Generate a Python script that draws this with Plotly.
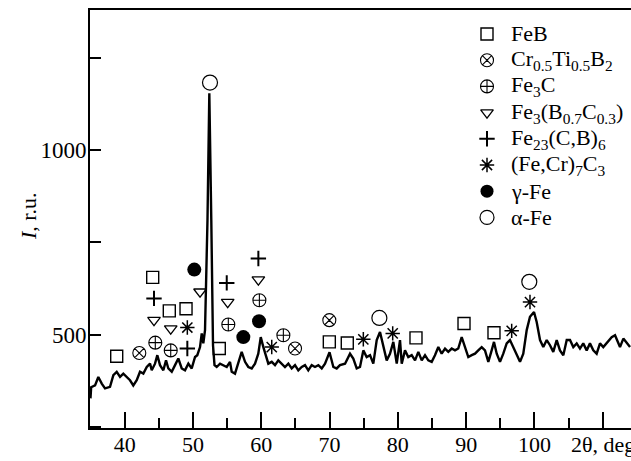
import plotly.graph_objects as go

# Diffraction pattern (2θ in degrees, intensity in r.u.)
two_theta = [35.0, 35.1, 35.67, 36.15, 36.65, 37.13, 37.86, 38.35, 38.84, 39.33, 39.81, 40.31,
             40.79, 41.27, 41.77, 42.25, 42.74, 43.24, 43.72, 43.97, 44.45, 44.79, 45.18, 45.67,
             46.06, 46.40, 46.90, 47.38, 47.86, 48.36, 48.84, 49.33, 49.82, 50.31, 50.64, 51.04,
             51.29, 51.52, 51.77, 52.13, 52.40, 52.69, 52.94, 53.16, 53.48, 53.97, 54.45, 54.95,
             55.43, 55.68, 56.16, 56.65, 57.14, 57.63, 58.11, 58.61, 59.09, 59.57, 59.93, 60.31,
             60.70, 61.04, 61.54, 62.02, 62.50, 63.00, 63.48, 63.97, 64.46, 64.95, 65.43, 65.93,
             66.41, 66.89, 67.39, 67.87, 68.36, 68.86, 69.34, 70.0, 70.56, 71.05, 71.53, 72.27,
             73.00, 73.48, 73.98, 74.46, 74.95, 75.44, 75.93, 76.41, 76.91, 77.39, 77.88, 78.37,
             78.85, 79.34, 79.84, 80.07, 80.32, 80.57, 81.05, 81.53, 82.03, 82.52, 83.00, 83.50,
             83.98, 84.46, 84.96, 85.44, 85.93, 86.42, 86.91, 87.39, 87.89, 88.37, 88.85, 89.35,
             89.84, 90.32, 90.82, 91.30, 91.78, 92.28, 92.76, 93.25, 93.74, 94.08, 94.48, 94.96,
             95.44, 95.94, 96.42, 96.91, 97.40, 97.89, 98.37, 98.87, 99.35, 99.94, 100.33, 100.82,
             101.30, 101.80, 102.28, 102.76, 103.26, 103.74, 104.23, 104.73, 105.21, 105.69, 106.19,
             106.67, 107.15, 107.65, 108.13, 108.62, 109.11, 109.60, 110.08, 110.58, 111.31, 111.80,
             112.28, 112.53, 113.02, 113.52, 114.0]
intensity = [327, 357, 362, 385, 367, 354, 358, 390, 399, 385, 394, 385,
             376, 362, 376, 399, 394, 412, 421, 403, 421, 444, 417, 403,
             430, 408, 399, 417, 435, 408, 403, 421, 408, 439, 444, 466,
             503, 476, 512, 810, 1154, 810, 471, 417, 412, 421, 417, 412,
             426, 399, 394, 421, 453, 426, 412, 408, 421, 448, 493, 466,
             444, 421, 426, 417, 430, 421, 412, 421, 408, 417, 403, 412,
             417, 403, 417, 412, 417, 408, 421, 452, 412, 408, 417, 421,
             448, 435, 408, 412, 457, 439, 444, 421, 485, 507, 466, 430,
             448, 480, 421, 448, 485, 421, 457, 439, 444, 430, 453, 430,
             444, 430, 426, 444, 466, 448, 462, 453, 462, 457, 462, 493,
             466, 439, 444, 448, 457, 466, 457, 426, 457, 480, 448, 426,
             448, 476, 485, 466, 444, 426, 448, 512, 548, 561, 534, 485,
             466, 485, 471, 453, 485, 457, 444, 485, 485, 466, 476,
             462, 476, 457, 476, 457, 448, 476, 466, 476, 493, 498,
             476, 466, 489, 476, 466]

# Phase labels (marker positions: 2θ, I)
phase_names = ["FeB", "Cr<sub>0.5</sub>Ti<sub>0.5</sub>B<sub>2</sub>", "Fe<sub>3</sub>C",
               "Fe<sub>3</sub>(B<sub>0.7</sub>C<sub>0.3</sub>)", "Fe<sub>23</sub>(C,B)<sub>6</sub>",
               "(Fe,Cr)<sub>7</sub>C<sub>3</sub>", "γ-Fe", "α-Fe"]
feb_x = [38.84, 44.11, 46.54, 48.99, 53.86, 69.97, 72.60, 82.66, 89.69, 94.08]
feb_y = [441, 655, 564, 570, 462, 480, 477, 491, 530, 505]
crti_x = [42.15, 64.95, 69.97]
crti_y = [450, 462, 539]
fe3c_x = [44.49, 46.75, 55.18, 59.73, 63.24]
fe3c_y = [478, 457, 527, 593, 498]
fe3bc_x = [44.30, 46.75, 51.04, 55.09, 59.58]
fe3bc_y = [539, 516, 616, 588, 649]
fe23_x = [44.30, 49.18, 54.95, 59.58]
fe23_y = [598, 462, 640, 706]
fecr_x = [49.18, 61.54, 74.95, 79.25, 96.67, 99.35]
fecr_y = [519, 466, 487, 503, 510, 588]
gfe_x = [50.20, 57.38, 59.68]
gfe_y = [676, 493, 536]
afe_x = [52.50, 77.30, 99.25]
afe_y = [1183, 545, 643]

x_tickvals = [40, 50, 60, 70, 80, 90, 100, 110]
x_ticktext = ["40", "50", "60", "70", "80", "90", "100", ""]
x_title = "2θ, deg"
y_tickvals = [500, 1000]
y_ticktext = ["500", "1000"]

FONT = "Liberation Serif, Times New Roman, serif"

fig = go.Figure()
fig.add_trace(go.Scatter(x=two_theta, y=intensity, mode="lines",
                         line=dict(color="black", width=2.4), showlegend=False))

series = [
    (feb_x, feb_y, "square-open", 12, 1.4),
    (crti_x, crti_y, "circle-x-open", 13, 1.1),
    (fe3c_x, fe3c_y, "circle-cross-open", 13, 1.1),
    (fe3bc_x, fe3bc_y, "triangle-down-open", 11, 1.3),
    (fe23_x, fe23_y, "cross-thin-open", 11, 2.0),
    (fecr_x, fecr_y, "asterisk-open", 12, 1.5),
    (gfe_x, gfe_y, "circle", 14, 0),
    (afe_x, afe_y, "circle-open", 15, 1.2),
]
for (xs, ys, sym, size, lw), name in zip(series, phase_names):
    fig.add_trace(go.Scatter(x=xs, y=ys, mode="markers", name=name, showlegend=False,
                             marker=dict(symbol=sym, size=size, color="black",
                                         line=dict(color="black", width=lw))))

# Hand-placed key (paper-like overlay axes, 0..1)
W, H = 631, 461
L, T, B = 90, 10, 33
plot_w, plot_h = W - L, H - T - B
key_sym_x = (487 - L) / plot_w
key_txt_x = (509 - L) / plot_w
key_rows = [(H - B - (34 + 26.2 * i)) / plot_h for i in range(len(phase_names))]
for i, ((xs, ys, sym, size, lw), name) in enumerate(zip(series, phase_names)):
    fig.add_trace(go.Scatter(x=[key_sym_x], y=[key_rows[i]], xaxis="x2", yaxis="y2",
                             mode="markers", showlegend=False, hoverinfo="skip",
                             marker=dict(symbol=sym, size=size - 1 if size > 13 else size,
                                         color="black", line=dict(color="black", width=lw))))
    fig.add_annotation(text=name, xref="paper", yref="paper", x=key_txt_x, y=key_rows[i],
                       xanchor="left", yanchor="middle", showarrow=False,
                       font=dict(family=FONT, size=22))

fig.update_layout(
    width=W, height=H,
    margin=dict(l=L, r=0, t=T, b=B, autoexpand=False),
    paper_bgcolor="white", plot_bgcolor="white",
    font=dict(family=FONT, size=22, color="black"),
    showlegend=False,
    xaxis=dict(range=[34.93, 114.14], showgrid=False, zeroline=False, automargin=False,
               showline=True, linecolor="black", linewidth=2, mirror=True,
               tickvals=x_tickvals, ticktext=x_ticktext,
               ticks="inside", ticklen=16, tickwidth=1.5, tickcolor="black",
               minor=dict(ticks="inside", ticklen=10, tickwidth=1.5, tickcolor="black", dtick=5, tick0=35),
               tickfont=dict(family=FONT, size=22), ticklabelstandoff=-4),
    yaxis=dict(range=[246.6, 1379.8], showgrid=False, zeroline=False, automargin=False,
               showline=True, linecolor="black", linewidth=2,
               tickvals=y_tickvals, ticktext=y_ticktext,
               ticks="inside", ticklen=11, tickwidth=1.5, tickcolor="black",
               minor=dict(ticks="inside", ticklen=11, tickwidth=1.5, tickcolor="black", dtick=250, tick0=0),
               tickfont=dict(family=FONT, size=23), ticklabelstandoff=-3),
    xaxis2=dict(range=[0, 1], overlaying="x", visible=False, fixedrange=True),
    yaxis2=dict(range=[0, 1], overlaying="y", visible=False, fixedrange=True),
)
fig.add_annotation(text=x_title, xref="x", yref="paper", x=110, y=(H - B - 444) / plot_h,
                   xanchor="center", yanchor="middle", showarrow=False,
                   font=dict(family=FONT, size=22))
fig.add_annotation(text="<i>I</i>, r.u.", xref="paper", yref="paper",
                   x=(28 - L) / plot_w, y=(H - B - 217) / plot_h, textangle=-90,
                   xanchor="center", yanchor="middle", showarrow=False,
                   font=dict(family=FONT, size=22))

fig.write_html("out.html", config={"displayModeBar": False},
               post_script="document.body.style.margin='0';")
